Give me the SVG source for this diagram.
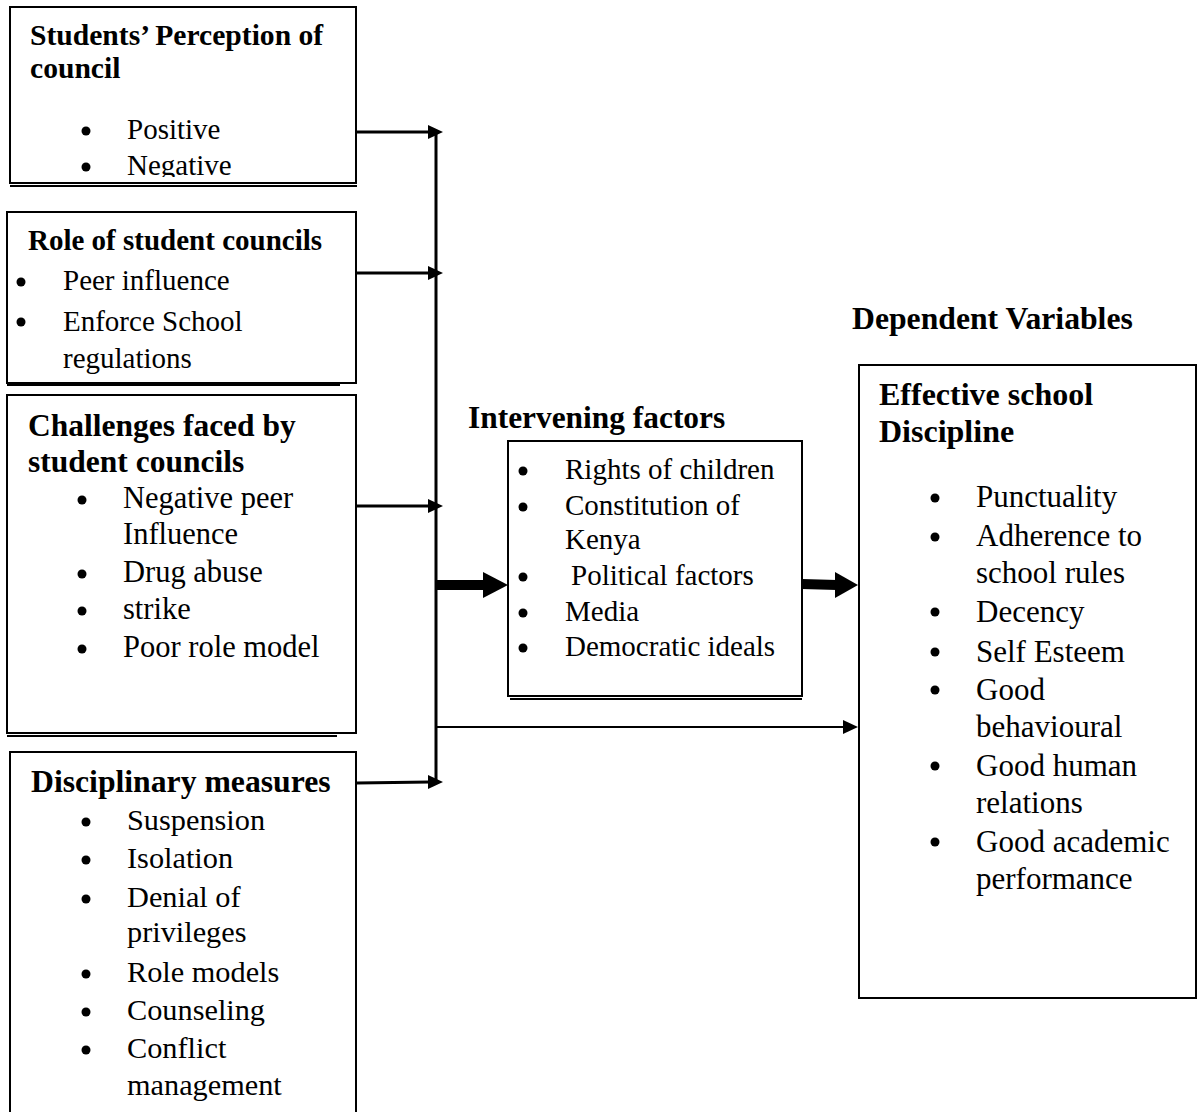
<svg xmlns="http://www.w3.org/2000/svg" width="1198" height="1112" viewBox="0 0 1198 1112">
<style>
  text { font-family: "Liberation Serif", "Times New Roman", serif; fill: #000; }
  .h { font-weight: bold; }
  .box { fill: #fff; stroke: #000; stroke-width: 2; }
  .sh { stroke: #000; stroke-width: 2; fill: none; }
  .ln { stroke: #000; stroke-width: 3; fill: none; }
  .thin { stroke: #000; stroke-width: 2; fill: none; }
  .thick { stroke: #000; stroke-width: 10; fill: none; }
  .b { fill: #000; }
  .ah { fill: #000; }
</style>
<defs>
  <clipPath id="clip1"><rect x="0" y="0" width="360" height="177"/></clipPath>
</defs>
<rect x="0" y="0" width="1198" height="1112" fill="#fff"/>

<g id="perception">
  <rect class="box" x="10" y="7" width="346" height="176"/>
  <line class="sh" x1="10" y1="186" x2="357" y2="186"/>
  <text class="h" x="30" y="45" font-size="29.6">Students’ Perception of</text>
  <text class="h" x="30" y="78" font-size="29.6">council</text>
  <circle class="b" cx="86" cy="131" r="4.5"/>
  <text x="127" y="139" font-size="29">Positive</text>
  <g clip-path="url(#clip1)">
    <circle class="b" cx="86" cy="167" r="4.5"/>
    <text x="127" y="175" font-size="29">Negative</text>
  </g>
</g>

<g id="role">
  <rect class="box" x="7" y="212" width="349" height="171"/>
  <line class="sh" x1="7" y1="385" x2="340" y2="385"/>
  <text class="h" x="28" y="250" font-size="29">Role of student councils</text>
  <circle class="b" cx="21" cy="282" r="4.5"/>
  <text x="63" y="290" font-size="29">Peer influence</text>
  <circle class="b" cx="21" cy="322" r="4.5"/>
  <text x="63" y="331" font-size="29">Enforce School</text>
  <text x="63" y="368" font-size="29">regulations</text>
</g>

<g id="challenges">
  <rect class="box" x="7" y="395" width="349" height="338"/>
  <line class="sh" x1="7" y1="736" x2="337" y2="736"/>
  <text class="h" x="28" y="436" font-size="31.5">Challenges faced by</text>
  <text class="h" x="28" y="472" font-size="31.5">student councils</text>
  <circle class="b" cx="82" cy="500" r="4.5"/>
  <text x="123" y="508" font-size="30.5">Negative peer</text>
  <text x="123" y="544" font-size="30.5">Influence</text>
  <circle class="b" cx="82" cy="574" r="4.5"/>
  <text x="123" y="582" font-size="30.5">Drug abuse</text>
  <circle class="b" cx="82" cy="611" r="4.5"/>
  <text x="123" y="619" font-size="30.5">strike</text>
  <circle class="b" cx="82" cy="649" r="4.5"/>
  <text x="123" y="657" font-size="30.5">Poor role model</text>
</g>

<g id="disciplinary">
  <rect class="box" x="10" y="752" width="346" height="370"/>
  <text class="h" x="31" y="792" font-size="31.7">Disciplinary measures</text>
  <circle class="b" cx="86" cy="822" r="4.5"/>
  <text x="127" y="830" font-size="30.3">Suspension</text>
  <circle class="b" cx="86" cy="860" r="4.5"/>
  <text x="127" y="868" font-size="30.3">Isolation</text>
  <circle class="b" cx="86" cy="899" r="4.5"/>
  <text x="127" y="907" font-size="30.3">Denial of</text>
  <text x="127" y="942" font-size="30.3">privileges</text>
  <circle class="b" cx="86" cy="974" r="4.5"/>
  <text x="127" y="982" font-size="30.3">Role models</text>
  <circle class="b" cx="86" cy="1012" r="4.5"/>
  <text x="127" y="1020" font-size="30.3">Counseling</text>
  <circle class="b" cx="86" cy="1050" r="4.5"/>
  <text x="127" y="1058" font-size="30.3">Conflict</text>
  <text x="127" y="1095" font-size="30.3">management</text>
</g>

<g id="intervening">
  <text class="h" x="468" y="428" font-size="31.4">Intervening factors</text>
  <rect class="box" x="508" y="441" width="294" height="255"/>
  <line class="sh" x1="510" y1="699" x2="802" y2="699"/>
  <circle class="b" cx="523" cy="471" r="4.5"/>
  <text x="565" y="479" font-size="29">Rights of children</text>
  <circle class="b" cx="523" cy="507" r="4.5"/>
  <text x="565" y="515" font-size="29">Constitution of</text>
  <text x="565" y="549" font-size="29">Kenya</text>
  <circle class="b" cx="523" cy="577" r="4.5"/>
  <text x="571" y="585" font-size="29">Political factors</text>
  <circle class="b" cx="523" cy="613" r="4.5"/>
  <text x="565" y="621" font-size="29">Media</text>
  <circle class="b" cx="523" cy="648" r="4.5"/>
  <text x="565" y="656" font-size="29">Democratic ideals</text>
</g>

<g id="dependent">
  <text class="h" x="852" y="329" font-size="31.7">Dependent Variables</text>
  <rect class="box" x="859" y="365" width="337" height="633"/>
  <text class="h" x="879" y="405" font-size="32">Effective school</text>
  <text class="h" x="879" y="442" font-size="32">Discipline</text>
  <circle class="b" cx="935" cy="498" r="4.5"/>
  <text x="976" y="507" font-size="31">Punctuality</text>
  <circle class="b" cx="935" cy="537" r="4.5"/>
  <text x="976" y="546" font-size="31">Adherence to</text>
  <text x="976" y="583" font-size="31">school rules</text>
  <circle class="b" cx="935" cy="612" r="4.5"/>
  <text x="976" y="622" font-size="31">Decency</text>
  <circle class="b" cx="935" cy="652" r="4.5"/>
  <text x="976" y="662" font-size="31">Self Esteem</text>
  <circle class="b" cx="935" cy="690" r="4.5"/>
  <text x="976" y="700" font-size="31">Good</text>
  <text x="976" y="737" font-size="31">behavioural</text>
  <circle class="b" cx="935" cy="766" r="4.5"/>
  <text x="976" y="776" font-size="31">Good human</text>
  <text x="976" y="813" font-size="31">relations</text>
  <circle class="b" cx="935" cy="842" r="4.5"/>
  <text x="976" y="852" font-size="31">Good academic</text>
  <text x="976" y="889" font-size="31">performance</text>
</g>

<g id="connectors">
  <line class="ln" x1="436" y1="134" x2="436" y2="781"/>
  <line class="ln" x1="357" y1="132" x2="430" y2="132"/>
  <polygon class="ah" points="428,125 443,132 428,139"/>
  <line class="ln" x1="357" y1="273" x2="430" y2="273"/>
  <polygon class="ah" points="428,266 443,273 428,280"/>
  <line class="ln" x1="357" y1="506" x2="430" y2="506"/>
  <polygon class="ah" points="428,499 443,506 428,513"/>
  <line class="ln" x1="357" y1="783" x2="430" y2="782"/>
  <polygon class="ah" points="428,775 443,782 428,789"/>
  <line class="thick" x1="437" y1="585" x2="485" y2="585"/>
  <polygon class="ah" points="483,572 508,585 483,598"/>
  <line class="thick" x1="802" y1="584" x2="837" y2="585"/>
  <polygon class="ah" points="835,572 858,585 835,598"/>
  <line class="thin" x1="437" y1="727" x2="845" y2="727"/>
  <polygon class="ah" points="843,720 858,727 843,734"/>
</g>
</svg>
